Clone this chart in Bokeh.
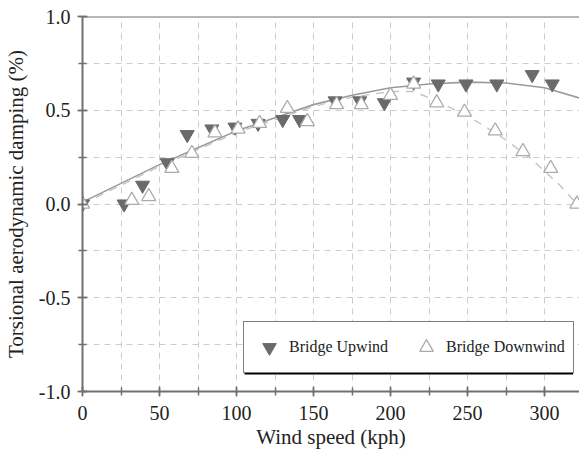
from bokeh.plotting import figure
from bokeh.models import (Range1d, SingleIntervalTicker, PrintfTickFormatter, Span,
                          Legend, LegendItem, BoxAnnotation)
from bokeh.embed import file_html
from bokeh.resources import INLINE

# ---- data ----
up_speed = [0, 27, 39, 55, 68, 84, 99, 114, 130, 141, 164, 180, 196, 215, 231, 249, 269, 292, 305]
up_damp = [0.0, 0.0, 0.10, 0.22, 0.37, 0.40, 0.41, 0.43, 0.45, 0.45, 0.55, 0.55, 0.54, 0.65, 0.64, 0.64, 0.64, 0.69, 0.64]

down_speed = [0, 32, 43, 58, 71, 86, 101, 115, 133, 146, 165, 181, 200, 215, 230, 248, 268, 286, 304, 321]
down_damp = [0.0, 0.02, 0.04, 0.19, 0.27, 0.38, 0.40, 0.43, 0.51, 0.44, 0.53, 0.53, 0.58, 0.64, 0.54, 0.49, 0.39, 0.28, 0.19, 0.0]

up_fit_speed = [0, 25, 50, 75, 100, 125, 150, 175, 200, 225, 250, 275, 300, 325]
up_fit_damp = [0.01, 0.11, 0.21, 0.30, 0.39, 0.46, 0.53, 0.58, 0.62, 0.64, 0.65, 0.645, 0.62, 0.56]

down_fit_speed = [0, 25, 50, 75, 100, 125, 150, 175, 200, 215, 230, 250, 270, 290, 310, 321]
down_fit_damp = [0.0, 0.10, 0.20, 0.29, 0.38, 0.45, 0.52, 0.57, 0.60, 0.60, 0.55, 0.47, 0.37, 0.25, 0.10, 0.0]

x_label = "Wind speed (kph)"
y_label = "Torsional aerodynamic damping (%)"
series_names = ["Bridge Upwind", "Bridge Downwind"]

FONT = "'Liberation Serif', 'Times New Roman', serif"

p = figure(frame_width=497, frame_height=375, output_backend="svg", toolbar_location=None,
           x_range=Range1d(0, 322.7), y_range=Range1d(-1.0, 1.0),
           min_border_left=76, min_border_right=0, min_border_top=16, min_border_bottom=55)
p.outline_line_color = None
p.background_fill_color = "white"
p.border_fill_color = "white"

# grids
p.xgrid.ticker = SingleIntervalTicker(interval=25)
p.ygrid.ticker = SingleIntervalTicker(interval=0.25)
for g in (p.xgrid, p.ygrid):
    g.grid_line_color = "#cccccc"
    g.grid_line_dash = "6 5"
    g.grid_line_width = 1

# axes
p.xaxis.ticker = SingleIntervalTicker(interval=50, num_minor_ticks=2)
p.yaxis.ticker = SingleIntervalTicker(interval=0.5, num_minor_ticks=2)
p.yaxis.formatter = PrintfTickFormatter(format="%.1f")
for ax in (p.xaxis, p.yaxis):
    ax.axis_line_color = "#707070"
    ax.axis_line_width = 2
    ax.major_tick_line_color = "#707070"
    ax.minor_tick_line_color = "#707070"
    ax.major_tick_line_width = 1.5
    ax.minor_tick_line_width = 1.5
    ax.major_tick_in = 5
    ax.major_tick_out = 5
    ax.minor_tick_in = 4
    ax.minor_tick_out = 4
    ax.major_label_text_font = FONT
    ax.major_label_text_font_size = "20px"
    ax.major_label_text_color = "#222222"
    ax.axis_label_text_font = FONT
    ax.axis_label_text_font_size = "21px"
    ax.axis_label_text_font_style = "normal"
    ax.axis_label_text_color = "#222222"
p.xaxis.axis_label = x_label
p.yaxis.axis_label = y_label
p.xaxis.major_label_standoff = 9
p.yaxis.major_label_standoff = 7
p.xaxis.axis_label_standoff = 2
p.yaxis.axis_label_standoff = 8

# top border line
p.add_layout(Span(location=1.0, dimension="width", line_color="#707070", line_width=2))

# fit curves
p.line(up_fit_speed, up_fit_damp, line_color="#9a9a9a", line_width=1.6)
p.line(down_fit_speed, down_fit_damp, line_color="#c4c4c4", line_width=1.4, line_dash="8 7")

# points
r_up = p.scatter(up_speed, up_damp, marker="inverted_triangle", size=14,
                 fill_color="#6a6a6a", line_color="#6a6a6a")
r_down = p.scatter(down_speed, down_damp, marker="triangle", size=14,
                   fill_color="white", line_color="#ababab", line_width=1.3)

# legend shadow
p.add_layout(BoxAnnotation(left=105.2, right=318.6, top=-0.648, bottom=-0.909,
                           fill_color="black", fill_alpha=1.0, line_color=None, level="annotation"))

legend = Legend(items=[LegendItem(label=series_names[0], renderers=[r_up]),
                       LegendItem(label=series_names[1], renderers=[r_down])],
                location=(161, 18), orientation="horizontal",
                padding=8, spacing=21, label_standoff=3, glyph_width=34, glyph_height=34,
                margin=0, border_line_color="black", border_line_width=1.2,
                background_fill_color="white", background_fill_alpha=1.0,
                label_text_font=FONT, label_text_font_size="16px", label_text_color="#222222")
p.add_layout(legend, "center")

open("out.html", "w").write(file_html(p, INLINE))
